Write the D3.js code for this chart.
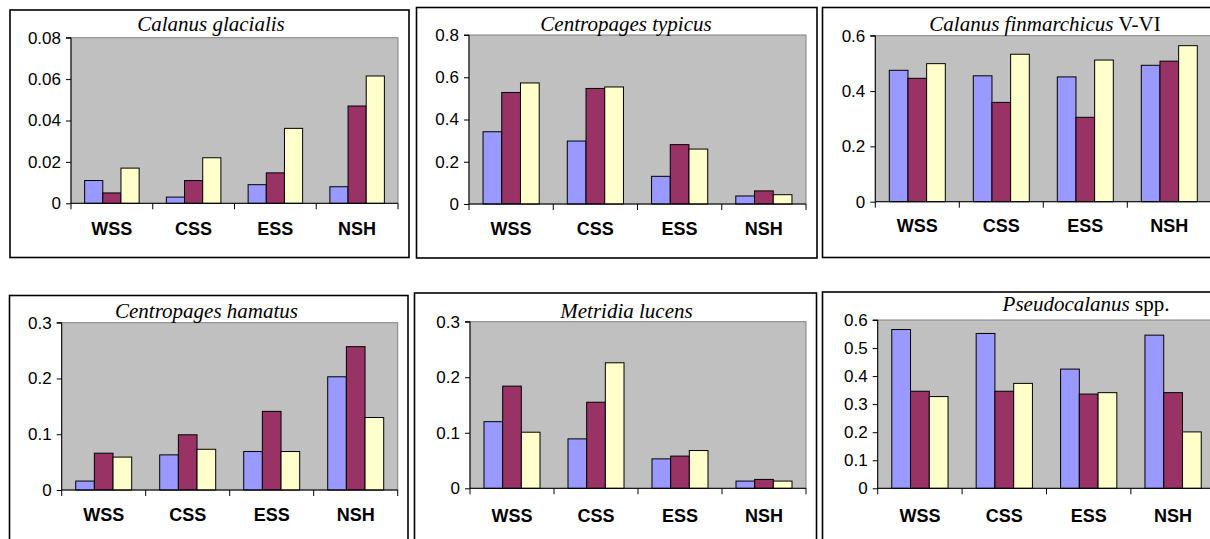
<!DOCTYPE html>
<html>
<head>
<meta charset="utf-8">
<script src="https://cdn.jsdelivr.net/npm/d3@7/dist/d3.min.js"></script>
<style>
  html, body { margin: 0; padding: 0; background: #fff; overflow: hidden; }
  svg { display: block; }
</style>
</head>
<body>
<svg id="chart" width="1210" height="539"></svg>
<script>
// Regions on the x axis and the three bar series drawn in each group
const regions = ["WSS", "CSS", "ESS", "NSH"];
const seriesColors = ["#9999ff", "#993366", "#ffffcc"];

// Values per region: [blue, purple, yellow]
const calanusGlacialis = [[0.011, 0.005, 0.017], [0.003, 0.011, 0.022], [0.009, 0.0147, 0.0362], [0.008, 0.047, 0.0615]];
const centropagesTypicus = [[0.342, 0.528, 0.573], [0.298, 0.547, 0.554], [0.131, 0.281, 0.260], [0.038, 0.062, 0.044]];
const calanusFinmarchicus = [[0.475, 0.446, 0.499], [0.455, 0.359, 0.533], [0.451, 0.305, 0.512], [0.493, 0.508, 0.564]];
const centropagesHamatus = [[0.016, 0.066, 0.059], [0.063, 0.099, 0.073], [0.069, 0.141, 0.069], [0.203, 0.257, 0.130]];
const metridiaLucens = [[0.120, 0.184, 0.101], [0.089, 0.155, 0.226], [0.053, 0.058, 0.068], [0.013, 0.016, 0.013]];
const pseudocalanus = [[0.566, 0.346, 0.327], [0.552, 0.346, 0.374], [0.425, 0.336, 0.341], [0.546, 0.341, 0.201]];

// Y-axis tick values
const ticksGlacialis = [0, 0.02, 0.04, 0.06, 0.08];
const ticksTypicus = [0, 0.2, 0.4, 0.6, 0.8];
const ticksFinmarchicus = [0, 0.2, 0.4, 0.6];
const ticksHamatus = [0, 0.1, 0.2, 0.3];
const ticksLucens = [0, 0.1, 0.2, 0.3];
const ticksPseudo = [0, 0.1, 0.2, 0.3, 0.4, 0.5, 0.6];

// Panel titles: [italic part, upright part]
const titles = [
  ["Calanus glacialis", ""],
  ["Centropages typicus", ""],
  ["Calanus finmarchicus", " V-VI"],
  ["Centropages hamatus", ""],
  ["Metridia lucens", ""],
  ["Pseudocalanus", " spp."]
];

// Panel layout (frame, plot area, title anchor, label baseline)
const panels = [
  { data: calanusGlacialis, ticks: ticksGlacialis, title: titles[0],
    box: [10, 10, 409, 257.5], plot: [71, 37.7, 398, 203.3], tx: 211, ty: 31, ly: 235 },
  { data: centropagesTypicus, ticks: ticksTypicus, title: titles[1],
    box: [416.5, 7.5, 817, 258], plot: [469, 35, 806, 204], tx: 626, ty: 30.7, ly: 235 },
  { data: calanusFinmarchicus, ticks: ticksFinmarchicus, title: titles[2],
    box: [822.5, 7.5, 1260, 257.5], plot: [875.3, 35.7, 1211.3, 201.7], tx: 1045, ty: 30.7, ly: 232 },
  { data: centropagesHamatus, ticks: ticksHamatus, title: titles[3],
    box: [9.5, 295.5, 408, 600], plot: [61.7, 322.7, 397.7, 490], tx: 206.5, ty: 318, ly: 521 },
  { data: metridiaLucens, ticks: ticksLucens, title: titles[4],
    box: [414.5, 293, 816.5, 600], plot: [470, 321.7, 806, 488.3], tx: 626.5, ty: 318, ly: 522 },
  { data: pseudocalanus, ticks: ticksPseudo, title: titles[5],
    box: [822.5, 292, 1260, 600], plot: [877.7, 320, 1215.3, 488.3], tx: 1086, ty: 311, ly: 522 }
];

const svg = d3.select("#chart");
const fmt = v => v === 0 ? "0" : String(+v.toFixed(3));

panels.forEach(p => {
  const g = svg.append("g");
  const [bx0, by0, bx1, by1] = p.box;
  const [px0, py0, px1, py1] = p.plot;

  // chart frame
  g.append("rect")
    .attr("x", bx0).attr("y", by0)
    .attr("width", bx1 - bx0).attr("height", by1 - by0)
    .attr("fill", "#fff").attr("stroke", "#000").attr("stroke-width", 1.6);

  const x = d3.scaleBand().domain(regions).range([px0, px1]).paddingInner(0).paddingOuter(0);
  const y = d3.scaleLinear().domain([0, d3.max(p.ticks)]).range([py1, py0]);
  const bw = x.bandwidth() / 4.5;
  const xs = d3.scaleBand().domain(d3.range(3)).range([0.75 * bw, 3.75 * bw]).padding(0);

  // plot area
  g.append("rect")
    .attr("x", px0).attr("y", py0)
    .attr("width", px1 - px0).attr("height", py1 - py0)
    .attr("fill", "#c0c0c0").attr("stroke", "#808080").attr("stroke-width", 1);

  // bars
  const groups = g.selectAll(".grp").data(p.data).join("g")
    .attr("transform", (d, i) => `translate(${x(regions[i])},0)`);
  groups.selectAll("rect").data(d => d).join("rect")
    .attr("x", (d, j) => xs(j))
    .attr("y", d => y(d))
    .attr("width", xs.bandwidth())
    .attr("height", d => y(0) - y(d))
    .attr("fill", (d, j) => seriesColors[j])
    .attr("stroke", "#000").attr("stroke-width", 1);

  // y axis
  const yAxis = d3.axisLeft(y).tickValues(p.ticks).tickFormat(fmt).tickSize(5).tickPadding(5);
  const ya = g.append("g").attr("transform", `translate(${px0},0)`).call(yAxis);
  ya.select(".domain").attr("stroke", "#000").attr("d", `M-5,${py0}H0V${py1}`);
  ya.selectAll("line").attr("stroke", "#000");
  ya.selectAll("text")
    .attr("fill", "#000")
    .style("font-family", "Arial, 'Liberation Sans', sans-serif")
    .style("font-size", "17px");

  // x axis: ticks on category boundaries
  g.append("line")
    .attr("x1", px0).attr("x2", px1).attr("y1", py1).attr("y2", py1)
    .attr("stroke", "#000").attr("stroke-width", 1);
  const bounds = regions.map(r => x(r)).concat([px1]);
  g.selectAll(".xt").data(bounds).join("line")
    .attr("x1", d => d).attr("x2", d => d)
    .attr("y1", py1).attr("y2", py1 + 6)
    .attr("stroke", "#000").attr("stroke-width", 1);

  g.selectAll(".xl").data(regions).join("text")
    .attr("x", d => x(d) + x.bandwidth() / 2)
    .attr("y", p.ly)
    .attr("text-anchor", "middle")
    .style("font-family", "Arial, 'Liberation Sans', sans-serif")
    .style("font-weight", "bold")
    .style("font-size", "18px")
    .text(d => d);

  // title
  const t = g.append("text")
    .attr("x", p.tx).attr("y", p.ty)
    .attr("text-anchor", "middle")
    .style("font-family", "'Times New Roman', 'Liberation Serif', serif")
    .style("font-size", "21px");
  t.append("tspan").style("font-style", "italic").text(p.title[0]);
  if (p.title[1]) t.append("tspan").text(p.title[1]);
});
</script>
</body>
</html>
